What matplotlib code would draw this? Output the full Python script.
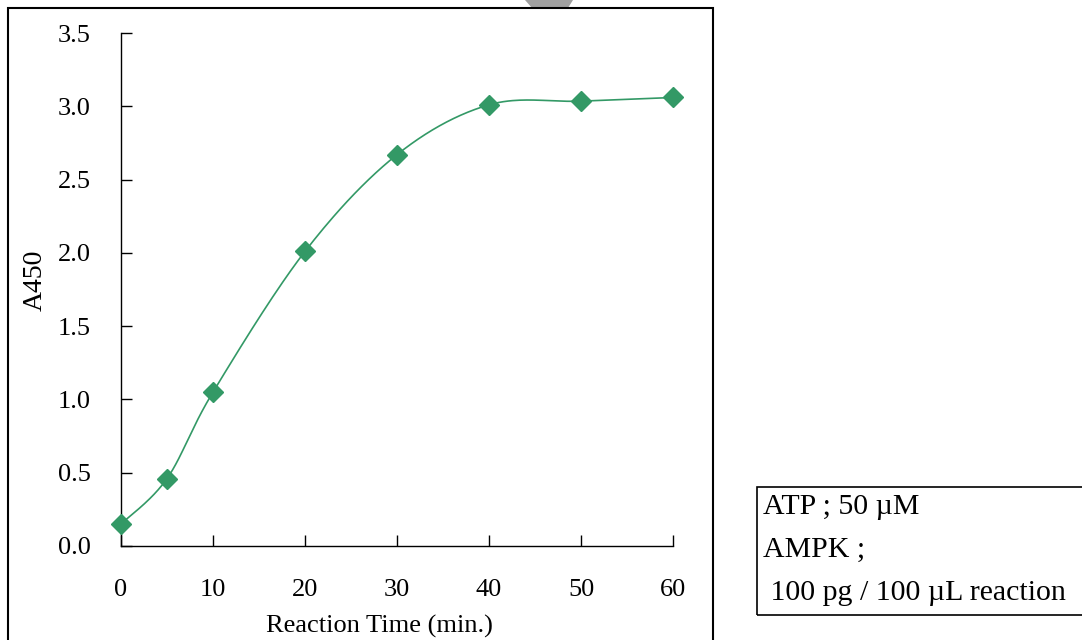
import numpy as np
import matplotlib

matplotlib.use("Agg")
import matplotlib.pyplot as plt
from matplotlib.patches import Rectangle, Polygon

plt.rcParams["font.family"] = ["Liberation Serif", "DejaVu Serif"]

# reaction time (min.) vs absorbance at 450 nm
time_min = [0, 5, 10, 20, 30, 40, 50, 60]
a450 = [0.15, 0.46, 1.05, 2.01, 2.67, 3.01, 3.035, 3.06]

x_ticks = [0, 10, 20, 30, 40, 50, 60]
y_ticks = [0.0, 0.5, 1.0, 1.5, 2.0, 2.5, 3.0, 3.5]
note_lines = ["ATP ; 50 \u00b5M", "AMPK ;", " 100 pg / 100 \u00b5L reaction"]

GREEN = "#339966"


def smooth(xs, ys, n=40):
    """Excel-style smoothed line: Catmull-Rom segments as cubic Beziers."""
    p = np.column_stack([xs, ys]).astype(float)
    p = np.vstack([p[0], p, p[-1]])
    out = []
    t = np.linspace(0, 1, n)[:, None]
    for i in range(1, len(p) - 2):
        p0, p1, p2, p3 = p[i - 1], p[i], p[i + 1], p[i + 2]
        c1 = p1 + (p2 - p0) / 6
        c2 = p2 - (p3 - p1) / 6
        seg = ((1 - t) ** 3) * p1 + 3 * ((1 - t) ** 2) * t * c1 \
            + 3 * (1 - t) * t ** 2 * c2 + t ** 3 * p2
        out.append(seg if i == 1 else seg[1:])
    seg = np.vstack(out)
    return seg[:, 0], seg[:, 1]


W, H = 1082, 640
fig = plt.figure(figsize=(W / 100, H / 100), dpi=100)

# grey shape peeking in at the top edge
fig.patches.append(Polygon([(525 / W, 1), (573 / W, 1), (568 / W, 1 - 8 / H), (532 / W, 1 - 8 / H)],
                           closed=True, transform=fig.transFigure, facecolor="#a0a0a0",
                           edgecolor="none", zorder=0))
# outer chart frame
fig.patches.append(Rectangle((8 / W, -10 / H), (713 - 8) / W, (640 - 8 + 10) / H,
                             transform=fig.transFigure, fill=False, edgecolor="black",
                             linewidth=1.5, zorder=1))

ax = fig.add_axes([121 / W, 94 / H, (673 - 121) / W, (607 - 94) / H])
ax.set_facecolor("none")
ax.set_xlim(0, 60)
ax.set_ylim(0, 3.5)
for s in ("top", "right"):
    ax.spines[s].set_visible(False)
for s in ("left", "bottom"):
    ax.spines[s].set_linewidth(1.0)

sx, sy = smooth(time_min, a450)
ax.plot(sx, sy, color=GREEN, linewidth=1.2, clip_on=False)
ax.plot(time_min, a450, linestyle="none", marker="D", markersize=10,
        color=GREEN, clip_on=False, zorder=3)

ax.set_xticks(x_ticks)
ax.set_xticklabels([str(v) for v in x_ticks])
ax.set_yticks(y_ticks)
ax.set_yticklabels(["%.1f" % v for v in y_ticks])
ax.tick_params(direction="in", length=8, width=1.0, labelsize=19)
ax.tick_params(axis="x", pad=24)
ax.tick_params(axis="y", pad=22)
ax.set_xlabel("Reaction Time (min.)", fontsize=19, va="center")
ax.xaxis.set_label_coords((379 - 121) / 552, (546 - 626) / 513)
ax.set_ylabel("A450", fontsize=20, va="center")
ax.yaxis.set_label_coords((35 - 121) / 552, (546 - 280) / 513)

# condition note box
fig.patches.append(Rectangle((757 / W, (640 - 615) / H), (1090 - 757) / W, (615 - 487) / H,
                             transform=fig.transFigure, fill=False, edgecolor="black",
                             linewidth=1.2, zorder=1))
for y_px, line in zip([514, 557, 600], note_lines):
    fig.text(763 / W, 1 - y_px / H, line, fontsize=21.5, va="baseline", ha="left")

fig.savefig("out.png", dpi=100, facecolor="white")
